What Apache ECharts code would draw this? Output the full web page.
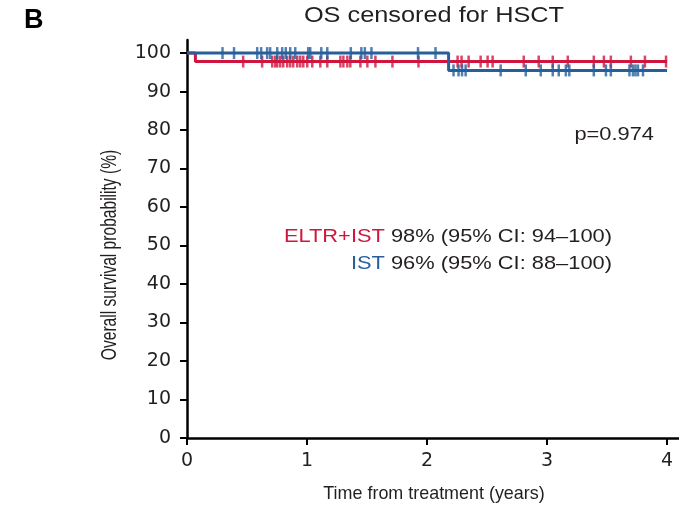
<!DOCTYPE html>
<html>
<head>
<meta charset="utf-8">
<script src="https://cdn.jsdelivr.net/npm/echarts@6/dist/echarts.min.js"></script>
<style>
  html, body { margin: 0; padding: 0; background: #fff; }
  #chart { width: 679px; height: 515px; }
</style>
</head>
<body>
<div id="chart"></div>
<script>
// Kaplan-Meier steps (years, %)
const eltrTimes = [0, 0.07, 4.0];
const eltrSurv = [100, 97.8, 97.8];
const istTimes = [0, 2.18, 4.0];
const istSurv = [100, 95.5, 95.5];

// censor marks (years)
const eltrCensor = [0.468, 0.626, 0.710, 0.735, 0.752, 0.777, 0.802, 0.835, 0.860, 0.885, 0.919, 0.944,
  0.969, 1.002, 1.044, 1.111, 1.169, 1.278, 1.303, 1.336, 1.361, 1.445, 1.503, 1.570, 1.712, 1.929,
  2.255, 2.288, 2.347, 2.447, 2.505, 2.547, 2.806, 2.931, 3.048, 3.173, 3.390, 3.474, 3.532, 3.699,
  3.816, 3.992];
const istCensor = [0.296, 0.392, 0.585, 0.618, 0.668, 0.693, 0.752, 0.793, 0.823, 0.860, 0.902, 1.010,
  1.027, 1.119, 1.169, 1.365, 1.453, 1.482, 1.537, 1.925, 2.071, 2.221, 2.263, 2.292, 2.322, 2.614,
  2.823, 2.948, 3.048, 3.098, 3.157, 3.186, 3.390, 3.491, 3.532, 3.687, 3.716, 3.737, 3.758, 3.800];

const timeTicks = [0, 1, 2, 3, 4];
const survTicks = [0, 10, 20, 30, 40, 50, 60, 70, 80, 90, 100];

const RED = '#d0163e';
const BLUE = '#265f9c';
const INK = '#231f20';

function survAt(times, surv, t) {
  let v = surv[0];
  for (let i = 0; i < times.length; i++) if (times[i] <= t) v = surv[i];
  return v;
}
const curve = (times, surv) => times.map((t, i) => [t, surv[i]]);
const marks = (cens, times, surv) => cens.map(t => [t, survAt(times, surv, t)]);

const chart = echarts.init(document.getElementById('chart'));
const S = 1.15;   // reference text is stretched horizontally
const N = 0.82;   // condensed face emulation

chart.setOption({
  animation: false,
  backgroundColor: '#fff',
  grid: { left: 187, right: 0, top: 40, bottom: 77 },
  xAxis: {
    type: 'value', min: 0, max: 4.1,
    axisLine: { lineStyle: { color: '#000', width: 2.5 } },
    axisTick: { length: 7, lineStyle: { color: '#000', width: 2 }, customValues: timeTicks },
    axisLabel: { customValues: timeTicks, margin: 14, color: INK, fontSize: 19, fontFamily: 'DejaVu Sans' },
    splitLine: { show: false }
  },
  yAxis: {
    type: 'value', min: 0, max: 103.4,
    axisLine: { show: true, lineStyle: { color: '#000', width: 2.5 } },
    axisTick: { show: true, length: 7, lineStyle: { color: '#000', width: 2 }, customValues: survTicks },
    axisLabel: { customValues: survTicks, margin: 16, color: INK, fontSize: 19, fontFamily: 'DejaVu Sans' },
    splitLine: { show: false }
  },
  series: [
    {
      name: 'ELTR+IST', type: 'line', step: 'end', symbol: 'none',
      data: curve(eltrTimes, eltrSurv),
      lineStyle: { color: RED, width: 3 }, z: 2
    },
    {
      type: 'scatter', symbol: 'rect', symbolSize: [2.5, 12],
      data: marks(eltrCensor, eltrTimes, eltrSurv),
      itemStyle: { color: RED }, z: 3
    },
    {
      name: 'IST', type: 'line', step: 'end', symbol: 'none',
      data: curve(istTimes, istSurv),
      lineStyle: { color: BLUE, width: 3 }, z: 4
    },
    {
      type: 'scatter', symbol: 'rect', symbolSize: [2.5, 12],
      data: marks(istCensor, istTimes, istSurv),
      itemStyle: { color: BLUE }, z: 5
    }
  ],
  graphic: [
    { type: 'text', x: 24, y: 7, style: { text: 'B', font: 'bold 27px "Liberation Sans"', fill: '#000' } },
    { type: 'text', x: 434, y: 16, scaleX: S,
      style: { text: 'OS censored for HSCT', font: '22px "Liberation Sans"', fill: INK, align: 'center', verticalAlign: 'middle' } },
    { type: 'text', x: 654, y: 135, scaleX: S,
      style: { text: 'p=0.974', font: '19px "Liberation Sans"', fill: INK, align: 'right', verticalAlign: 'middle' } },
    { type: 'text', x: 612, y: 237, scaleX: S,
      style: {
        text: '{r|ELTR+IST} {k|98% (95% CI: 94\u2013100)}', align: 'right', verticalAlign: 'middle',
        rich: {
          r: { fill: RED, font: '19px "Liberation Sans"' },
          k: { fill: INK, font: '19px "Liberation Sans"' }
        },
        font: '19px "Liberation Sans"'
      } },
    { type: 'text', x: 612, y: 264, scaleX: S,
      style: {
        text: '{b|IST} {k|96% (95% CI: 88\u2013100)}', align: 'right', verticalAlign: 'middle',
        rich: {
          b: { fill: BLUE, font: '19px "Liberation Sans"' },
          k: { fill: INK, font: '19px "Liberation Sans"' }
        },
        font: '19px "Liberation Sans"'
      } },
    { type: 'text', x: 434, y: 494, scaleX: N * S,
      style: { text: 'Time from treatment (years)', font: '19px "Liberation Sans"', fill: INK, align: 'center', verticalAlign: 'middle' } },
    { type: 'text', x: 110, y: 255, rotation: Math.PI / 2, scaleX: N, scaleY: S,
      style: { text: 'Overall survival probability (%)', font: '19px "Liberation Sans"', fill: INK, align: 'center', verticalAlign: 'middle' } }
  ]
});
</script>
</body>
</html>
